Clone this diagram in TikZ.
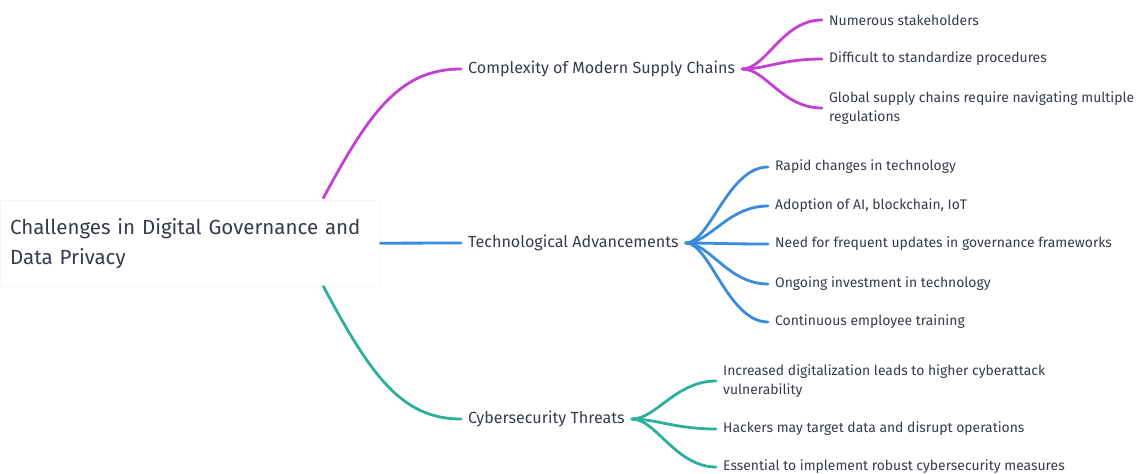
\documentclass[tikz,border=0pt]{standalone}
\usepackage{fontspec}
\setmainfont{Fira Sans}
\usepackage{tikz}
\usetikzlibrary{positioning}
\definecolor{inkgray}{HTML}{363C48}
\definecolor{mmpurple}{HTML}{C43FD3}
\definecolor{mmblue}{HTML}{3A8BDB}
\definecolor{mmteal}{HTML}{2DB09B}

\begin{document}
\begin{tikzpicture}[x=1pt, y=-1pt, line cap=round,
    rootbox/.style={draw=black!4, fill=white, minimum width=380pt,
      minimum height=86pt, anchor=north west, inner xsep=10pt,
      align=left, text width=360pt, font=\fontsize{20.5}{30}\selectfont},
    topic/.style={anchor=west, inner xsep=7pt, inner ysep=2pt,
      font=\fontsize{16.1}{19}\selectfont},
    leaf/.style={anchor=west, inner xsep=7pt, inner ysep=2pt, align=left,
      font=\fontsize{13.9}{19}\selectfont},
    branch/.style={line width=2.8pt}]
  \useasboundingbox (0,0) rectangle (1136,474);

  % root
  \node[rootbox, text=inkgray] (root) at (0,200)
    {Challenges in Digital Governance and\\Data Privacy};

  % topics
  \node[topic, text=inkgray] (cplx)  at (461,69)  {Complexity of Modern Supply Chains};
  \node[topic, text=inkgray] (tech)  at (461,243) {Technological Advancements};
  \node[topic, text=inkgray] (cyber) at (461,419) {Cybersecurity Threats};

  % complexity leaves
  \node[leaf, text=inkgray] (c1) at (822,20)  {Numerous stakeholders};
  \node[leaf, text=inkgray] (c2) at (822,59)  {Difficult to standardize procedures};
  \node[leaf, text=inkgray] (c3) at (822,108) {Global supply chains require navigating multiple\\regulations};

  % technology leaves
  \node[leaf, text=inkgray] (t1) at (768,167) {Rapid changes in technology};
  \node[leaf, text=inkgray] (t2) at (768,206) {Adoption of AI, blockchain, IoT};
  \node[leaf, text=inkgray] (t3) at (768,244) {Need for frequent updates in governance frameworks};
  \node[leaf, text=inkgray] (t4) at (768,284) {Ongoing investment in technology};
  \node[leaf, text=inkgray] (t5) at (768,322) {Continuous employee training};

  % cybersecurity leaves
  \node[leaf, text=inkgray] (s1) at (716,381) {Increased digitalization leads to higher cyberattack\\vulnerability};
  \node[leaf, text=inkgray] (s2) at (716,429) {Hackers may target data and disrupt operations};
  \node[leaf, text=inkgray] (s3) at (716,467) {Essential to implement robust cybersecurity measures};

  % root to topics
  \draw[branch, mmpurple] ([xshift=-57pt,yshift=2pt]root.north east)
    .. controls +(47,-88) and +(-60,0) .. (cplx.west);
  \draw[branch, mmblue] (root.east) -- (tech.west);
  \draw[branch, mmteal] ([xshift=-57pt]root.south east)
    .. controls +(47,88) and +(-60,0) .. (cyber.west);

  % topics to leaves
  \foreach \leafname in {c1,c2,c3}
    \draw[branch, mmpurple] (cplx.east) .. controls +(24,0) and +(-40,0) .. (\leafname.west);
  \foreach \leafname in {t1,t2,t3,t4,t5}
    \draw[branch, mmblue] (tech.east) .. controls +(24,0) and +(-40,0) .. (\leafname.west);
  \foreach \leafname in {s1,s2,s3}
    \draw[branch, mmteal] (cyber.east) .. controls +(24,0) and +(-40,0) .. (\leafname.west);
\end{tikzpicture}
\end{document}
